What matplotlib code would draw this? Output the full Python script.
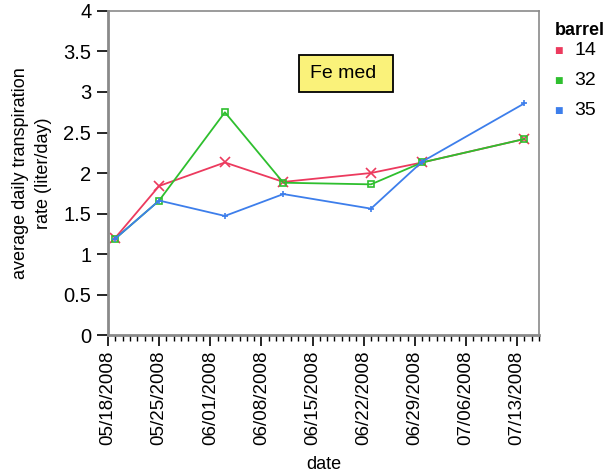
import matplotlib.pyplot as plt
import matplotlib.dates as mdates
from matplotlib.patches import Rectangle
import numpy as np
import datetime as dt

plt.rcParams['font.family'] = ['Liberation Sans', 'DejaVu Sans']

# Weekly measurement dates (2008) and average daily transpiration per barrel
dates = ["2008-05-19", "2008-05-25", "2008-06-03", "2008-06-11",
         "2008-06-23", "2008-06-30", "2008-07-14"]
barrel_14 = [1.20, 1.84, 2.13, 1.89, 2.00, 2.13, 2.42]
barrel_32 = [1.19, 1.66, 2.75, 1.88, 1.86, 2.13, 2.42]
barrel_35 = [1.19, 1.66, 1.47, 1.74, 1.56, 2.14, 2.86]

days = [dt.datetime.strptime(d, "%Y-%m-%d") for d in dates]

red = "#EC3A5E"
green = "#2EBF2E"
blue = "#3D7EEB"

fig = plt.figure(figsize=(6.14, 4.76), dpi=100)
ax = fig.add_axes([0.1759, 0.2962, 0.702, 0.6807])

ax.plot(days, barrel_14, color=red, lw=1.3, marker='x', ms=7, mew=1.2)
ax.plot(days, barrel_32, color=green, lw=1.3, marker='s', ms=5, mfc='none', mew=1.2)
ax.plot(days, barrel_35, color=blue, lw=1.3, marker='+', ms=5, mew=1.2)

ax.set_xlim(dt.datetime(2008, 5, 18), dt.datetime(2008, 7, 16))
ax.set_ylim(0, 4)
ax.set_yticks(np.arange(0, 4.01, 0.5))
ax.set_yticklabels(["0", "0.5", "1", "1.5", "2", "2.5", "3", "3.5", "4"])

ax.xaxis.set_major_locator(mdates.WeekdayLocator(byweekday=mdates.SU))
ax.xaxis.set_major_formatter(mdates.DateFormatter("%m/%d/%Y"))
ax.xaxis.set_minor_locator(mdates.DayLocator())
ax.tick_params(axis='x', which='major', rotation=90, length=8, width=1.2, labelsize=13.5, pad=3)
ax.tick_params(axis='x', which='minor', length=4, width=1)
ax.tick_params(axis='y', length=8, width=1.2, labelsize=14.5, pad=4)

for s in ax.spines.values():
    s.set_color("#8a8a8a")
    s.set_linewidth(1.2)
ax.spines['left'].set_linewidth(2)
ax.spines['bottom'].set_linewidth(2)

ax.set_xlabel("date", fontsize=13, labelpad=8)
ax.set_ylabel("average daily transpiration\nrate (liter/day)", fontsize=13,
              labelpad=8, multialignment='center', linespacing=1.45)

# "Fe med" tag box
ax.add_patch(Rectangle((0.443, 0.75), 0.218, 0.114, transform=ax.transAxes,
                       fc="#FAF27A", ec='black', lw=1.3, zorder=3))
ax.text(0.469, 0.807, "Fe med", transform=ax.transAxes, fontsize=14,
        va='center', ha='left', zorder=4)

# Legend drawn beside the axes
fig.text(0.903, 0.935, "barrel", fontsize=13, fontweight='bold', ha='left', va='center')
for i, (lab, col) in enumerate([("14", red), ("32", green), ("35", blue)]):
    y = 0.893 - i * 0.063
    fig.text(0.909, y, "■", color=col, fontsize=6.5, ha='center', va='center',
             family=['DejaVu Sans'])
    fig.text(0.935, y, lab, fontsize=14, ha='left', va='center')

fig.savefig("out.png", dpi=100)
